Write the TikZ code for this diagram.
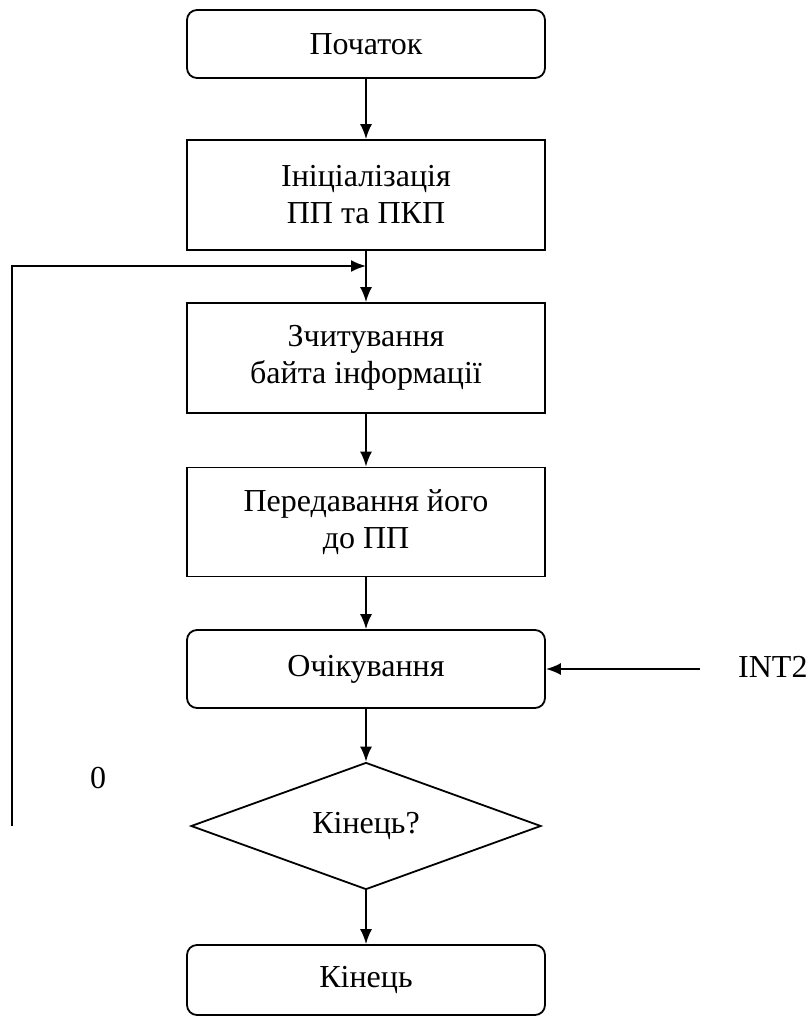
\documentclass[tikz,border=0pt]{standalone}
\usepackage{fontspec}
\setmainfont{Liberation Serif}
\usetikzlibrary{arrows.meta,shapes.geometric}
\begin{document}
\begin{tikzpicture}[x=1pt,y=-1pt,
  every node/.style={font=\fontsize{32}{37}\selectfont},
  box/.style={draw, line width=1.8pt, minimum width=358pt, align=center, inner sep=0pt},
  rbox/.style={box, rounded corners=10pt},
  dec/.style={draw, line width=1.8pt, diamond, aspect=2.76, minimum width=350pt, minimum height=127pt, inner sep=0pt},
  lbl/.style={inner sep=0pt},
  flow/.style={line width=1.8pt, -{Latex[length=15pt,width=12pt]}},
  ln/.style={line width=1.8pt}]
\useasboundingbox (0,0) rectangle (811,1024);
\node[rbox, minimum height=68pt] (start) at (366,44) {Початок};
\node[box, minimum height=110pt] (init) at (366,195) {Ініціалізація\\ПП та ПКП};
\node[box, minimum height=110pt] (read) at (366,358) {Зчитування\\байта інформації};
\node[box, minimum height=109pt] (send) at (366,522) {Передавання його\\до ПП};
\node[rbox, minimum height=78pt] (wait) at (366,669) {Очікування};
\node[dec] (end) at (366,826) {Кінець?};
\node[rbox, minimum height=70pt] (stop) at (366,980) {Кінець};
\node[lbl, anchor=west] (int) at (738,667) {INT2};
\node[lbl] (zero) at (98,778) {0};
\coordinate (join) at (366,266);
\coordinate (lb) at (12,826);
\coordinate (lt) at (12,266);
\coordinate (intstart) at (700,669);
\draw[flow] (start) -- (init);
\draw[ln] (init.south) -- (join);
\draw[flow] (join) -- (read);
\draw[flow] (lb) -- (lt) -- (join);
\draw[flow] (read) -- (send);
\draw[flow] (send) -- (wait);
\draw[flow] (intstart) -- (wait.east);
\draw[flow] (wait) -- (end);
\draw[flow] (end) -- (stop);
\end{tikzpicture}
\end{document}
